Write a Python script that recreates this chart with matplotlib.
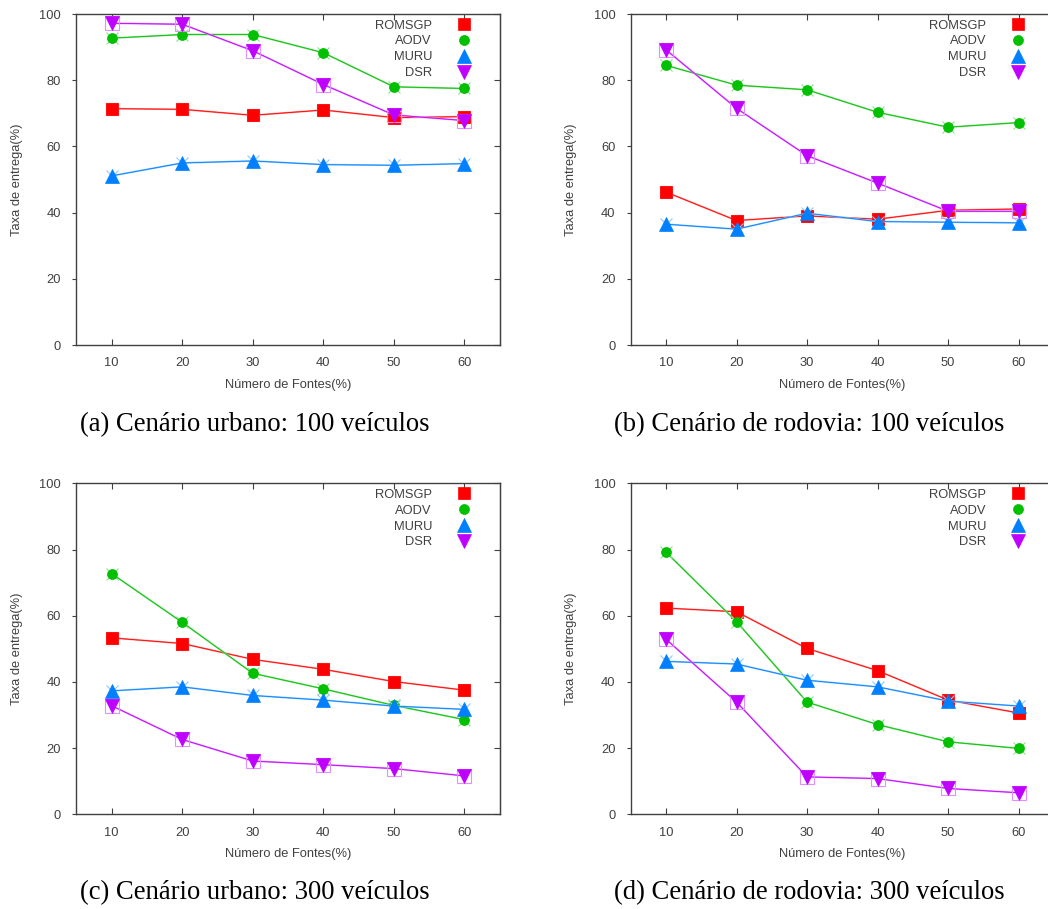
import matplotlib
matplotlib.use("Agg")
import matplotlib.pyplot as plt

x_fontes = [10, 20, 30, 40, 50, 60]
series_names = ["ROMSGP", "AODV", "MURU", "DSR"]

# (a) Cenário urbano: 100 veículos
a_romsgp = [71.4, 71.2, 69.4, 71.0, 68.7, 69.0]
a_aodv = [92.7, 93.8, 93.8, 88.3, 78.0, 77.5]
a_muru = [51.1, 55.0, 55.6, 54.5, 54.3, 54.8]
a_dsr = [97.2, 96.9, 88.9, 78.7, 69.5, 67.8]

# (b) Cenário de rodovia: 100 veículos
b_romsgp = [46.2, 37.6, 39.0, 38.0, 40.7, 41.1]
b_aodv = [84.5, 78.5, 77.1, 70.3, 65.8, 67.2]
b_muru = [36.5, 35.0, 39.8, 37.3, 37.1, 36.9]
b_dsr = [89.2, 71.5, 57.2, 48.9, 40.4, 40.4]

# (c) Cenário urbano: 300 veículos
c_romsgp = [53.3, 51.6, 46.8, 43.8, 40.1, 37.5]
c_aodv = [72.7, 58.0, 42.6, 37.9, 32.9, 28.6]
c_muru = [37.3, 38.5, 35.9, 34.5, 32.7, 31.7]
c_dsr = [32.8, 22.6, 16.1, 15.0, 13.8, 11.6]

# (d) Cenário de rodovia: 300 veículos
d_romsgp = [62.3, 61.2, 50.1, 43.4, 34.5, 30.6]
d_aodv = [79.2, 58.2, 33.9, 27.1, 21.9, 19.9]
d_muru = [46.2, 45.4, 40.5, 38.5, 34.2, 32.7]
d_dsr = [52.9, 33.9, 11.3, 10.8, 7.8, 6.5]

captions = ["(a) Cenário urbano: 100 veículos",
            "(b) Cenário de rodovia: 100 veículos",
            "(c) Cenário urbano: 300 veículos",
            "(d) Cenário de rodovia: 300 veículos"]
xlabel = "Número de Fontes(%)"
ylabel = "Taxa de entrega(%)"
yticks = [0, 20, 40, 60, 80, 100]

panels = [
    [a_romsgp, a_aodv, a_muru, a_dsr],
    [b_romsgp, b_aodv, b_muru, b_dsr],
    [c_romsgp, c_aodv, c_muru, c_dsr],
    [d_romsgp, d_aodv, d_muru, d_dsr],
]

colors = ["#ff0000", "#00c000", "#0080ff", "#c000ff"]
light = ["#ff9090", "#90e090", "#90c8ff", "#e090ff"]
markers = ["s", "o", "^", "v"]
msizes = [8, 7.2, 9.5, 9.5]
deco = ["s", "x", "x", "s"]
deco_ms = [9, 8, 9, 10]

plt.rcParams["font.family"] = ["Liberation Sans", "DejaVu Sans"]

fig = plt.figure(figsize=(10.48, 9.09), dpi=100)
W, H = 1048.0, 909.0
lefts = [76.4, 630.7, 76.4, 630.7]
tops = [14.0, 14.0, 483.3, 483.3]
ax_w = 423.3
ax_h = 331.0
cap_pos = [(255, 425), (809, 425), (255, 893), (809, 893)]
frame_col = "#404040"
txt_col = "#404040"

for i, data in enumerate(panels):
    l, t = lefts[i], tops[i]
    ax = fig.add_axes([l / W, 1 - (t + ax_h) / H, ax_w / W, ax_h / H])
    for j, (vals, name) in enumerate(zip(data, series_names)):
        ax.plot(x_fontes, vals, color=light[j], lw=1.3, zorder=2 + j)
        ax.plot(x_fontes, vals, color=colors[j], lw=0.6, zorder=2 + j)
        ax.plot(x_fontes, vals, linestyle="none", marker=deco[j],
                ms=deco_ms[j], mfc="none", mec=light[j], mew=0.8,
                zorder=2 + j)
        ax.plot(x_fontes, vals, linestyle="none", marker=markers[j],
                ms=msizes[j], color=colors[j], mec=colors[j], mew=0.5,
                label=name, zorder=3 + j)
    ax.set_xlim(5, 65)
    ax.set_ylim(0, 100)
    ax.set_xticks(x_fontes)
    ax.set_yticks(yticks)
    for s in ax.spines.values():
        s.set_color(frame_col)
        s.set_linewidth(1.0)
    ax.tick_params(axis="x", direction="in", top=True, length=4,
                   color=frame_col, labelsize=9.3, labelcolor=txt_col, pad=9)
    ax.tick_params(axis="y", direction="out", right=False, length=3,
                   color=frame_col, labelsize=9.3, labelcolor=txt_col, pad=8)
    sec = ax.secondary_yaxis("right")
    sec.set_yticks(yticks)
    sec.tick_params(direction="in", length=4, color=frame_col,
                    labelright=False)
    sec.spines["right"].set_color(frame_col)
    ax.set_xlabel(xlabel, fontsize=9.3, color=txt_col, va="center")
    ax.xaxis.set_label_coords(0.5, -0.121)
    ax.set_ylabel(ylabel, fontsize=9.3, color=txt_col, va="center")
    ax.yaxis.set_label_coords(-0.140, 0.5)
    handles, labels = ax.get_legend_handles_labels()
    leg = ax.legend(handles, labels, loc="upper right",
                    bbox_to_anchor=(0.939, 0.983), frameon=False,
                    markerfirst=False, fontsize=9.3, borderpad=0,
                    borderaxespad=0, handlelength=1.5, handletextpad=1.75,
                    labelspacing=0.29, numpoints=1)
    for tx in leg.get_texts():
        tx.set_color(txt_col)
    cx, cy = cap_pos[i]
    fig.text(cx / W, 1 - cy / H, captions[i], ha="center", va="center",
             fontsize=19.2, family=["Liberation Serif", "DejaVu Serif"],
             color="black")

fig.savefig("out.png", dpi=100)
